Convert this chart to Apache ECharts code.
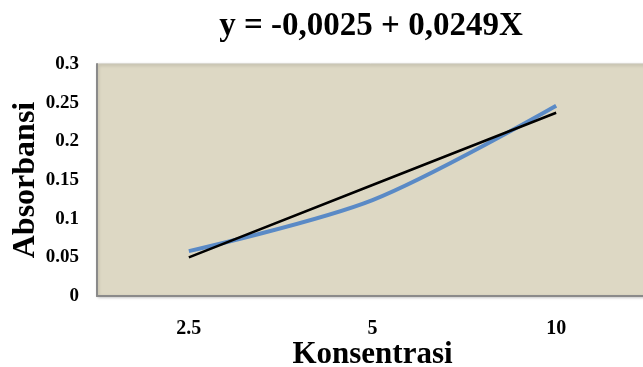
<!DOCTYPE html>
<html>
<head>
<meta charset="utf-8">
<script src="https://cdn.jsdelivr.net/npm/echarts@6/dist/echarts.min.js"></script>
<style>
html,body{margin:0;padding:0;background:#fff;}
#chart{width:643px;height:367px;}
</style>
</head>
<body>
<div id="chart"></div>
<script>
// Konsentrasi categories and measured absorbance
var categories = ['2.5', '5', '10'];
var absorbance = [0.058, 0.124, 0.246];
// Linear trend drawn across the same categories
var trend = [0.050, 0.1435, 0.237];
var yTicks = [0, 0.05, 0.1, 0.15, 0.2, 0.25, 0.3];

var serif = '"Liberation Serif", "Times New Roman", serif';
var chart = echarts.init(document.getElementById('chart'));
chart.setOption({
  animation: false,
  title: {
    text: 'y = -0,0025 + 0,0249X',
    left: 366, top: 5, textAlign: 'center',
    textStyle: {fontFamily: serif, fontWeight: 'bold', fontSize: 33, color: '#000'}
  },
  grid: {
    left: 97, top: 64, right: -5, bottom: 71,
    containLabel: false, outerBoundsMode: 'none',
    show: true, backgroundColor: '#DDD8C4', borderColor: '#C8C4B4', borderWidth: 1,
    shadowColor: 'rgba(0,0,0,0.25)', shadowBlur: 3, shadowOffsetX: 1, shadowOffsetY: 1
  },
  xAxis: {
    type: 'category', data: categories, boundaryGap: true,
    name: 'Konsentrasi', nameLocation: 'middle', nameGap: 43, nameMoveOverlap: false,
    nameTextStyle: {fontFamily: serif, fontWeight: 'bold', fontSize: 31, color: '#000'},
    axisLine: {lineStyle: {color: '#8a8a8a', width: 2}},
    axisTick: {show: false},
    axisLabel: {fontFamily: serif, fontWeight: 'bold', fontSize: 20, color: '#000', margin: 23}
  },
  yAxis: {
    type: 'value', min: 0, max: 0.3, interval: 0.05,
    name: 'Absorbansi', nameLocation: 'middle', nameGap: 55, nameRotate: 90, nameMoveOverlap: false,
    nameTextStyle: {fontFamily: serif, fontWeight: 'bold', fontSize: 32, color: '#000'},
    axisLine: {show: true, lineStyle: {color: '#8a8a8a', width: 2}},
    axisTick: {show: false},
    splitLine: {show: false},
    axisLabel: {
      fontFamily: serif, fontWeight: 'bold', fontSize: 19, color: '#000', margin: 18,
      formatter: function (v) {
        var hit = yTicks.filter(function (t) { return Math.abs(t - v) < 1e-9; })[0];
        return hit === undefined ? '' : String(hit);
      }
    }
  },
  series: [
    {
      type: 'line', data: absorbance, smooth: 0.3, symbol: 'none',
      lineStyle: {color: '#5A8AC6', width: 4}
    },
    {
      type: 'line', data: trend, symbol: 'none',
      lineStyle: {color: '#000', width: 2.5}
    }
  ]
});
</script>
</body>
</html>
